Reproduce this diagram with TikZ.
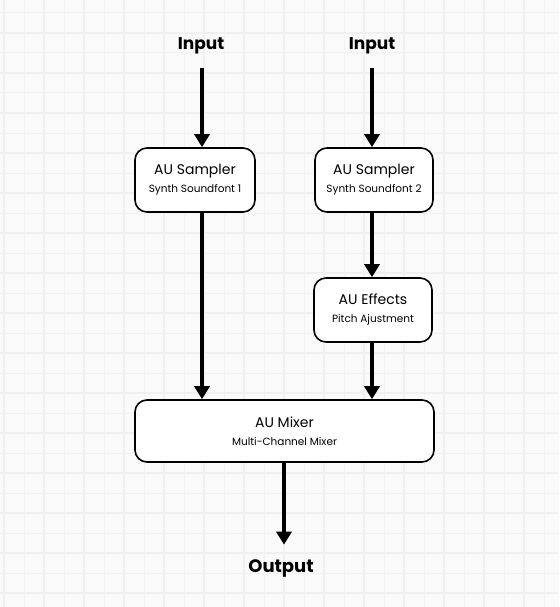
\documentclass[tikz,border=0pt]{standalone}
\usepackage{fontspec}
\setmainfont{Poppins}
\usetikzlibrary{arrows.meta, positioning}
\newcommand{\blocktext}[2]{{\fontsize{14}{16}\selectfont #1}\\[6pt]{\fontsize{10.5}{12}\selectfont #2}}
\begin{document}
\begin{tikzpicture}[x=1pt, y=-1pt,
    gridline/.style={draw=black!5, line width=1pt},
    majorline/.style={draw=black!6, line width=1.8pt},
    block/.style={draw, line width=1.6pt, rounded corners=12pt, fill=white, minimum width=120pt, minimum height=64pt, align=center, inner sep=2pt},
    label/.style={font=\bfseries\fontsize{17}{19}\selectfont},
    flow/.style={line width=3.5pt, -{Triangle[length=13pt, width=15pt]}}]
    \useasboundingbox (0,0) rectangle (559,607);
    \fill[black!2] (0,0) rectangle (559,607);
    % grid
    \foreach \x in {24,64,...,544} {
        \draw[gridline] (\x,0) -- (\x,607);
    }
    \foreach \x in {4,44,...,554} {
        \draw[majorline] (\x,0) -- (\x,607);
    }
    \foreach \y in {13,53,...,593} {
        \draw[gridline] (0,\y) -- (559,\y);
    }
    \foreach \y in {33,73,...,593} {
        \draw[majorline] (0,\y) -- (559,\y);
    }
    % nodes
    \node[label] (in1) at (201,46) {Input};
    \node[label] (in2) at (372,46) {Input};
    \node[block] (samp1) at (195,180) {\blocktext{AU Sampler}{Synth Soundfont 1}};
    \node[block, minimum width=118pt] (samp2) at (374,180) {\blocktext{AU Sampler}{Synth Soundfont 2}};
    \node[block, minimum width=118pt] (fx) at (373,310) {\blocktext{AU Effects}{Pitch Ajustment}};
    \node[block, minimum width=299pt, minimum height=62pt] (mix) at (284.5,431) {\blocktext{AU Mixer}{Multi-Channel Mixer}};
    \node[label, font=\bfseries\fontsize{18}{20}\selectfont] (out) at (281,568) {Output};
    % connectors
    \draw[flow, shorten <=10pt] (in1.south -| 202,0) -- (samp1.north -| 202,0);
    \draw[flow, shorten <=10pt] (in2) -- (in2 |- samp2.north);
    \draw[flow] (samp1.south -| 202,0) -- (mix.north -| 202,0);
    \draw[flow] (fx.south -| in2) -- (in2 |- mix.north);
    \draw[flow] (samp2.south -| in2) -- (in2 |- fx.north);
    \draw[flow, shorten >=11pt] (mix.south -| 284,0) -- (out.north -| 284,0);
\end{tikzpicture}
\end{document}
